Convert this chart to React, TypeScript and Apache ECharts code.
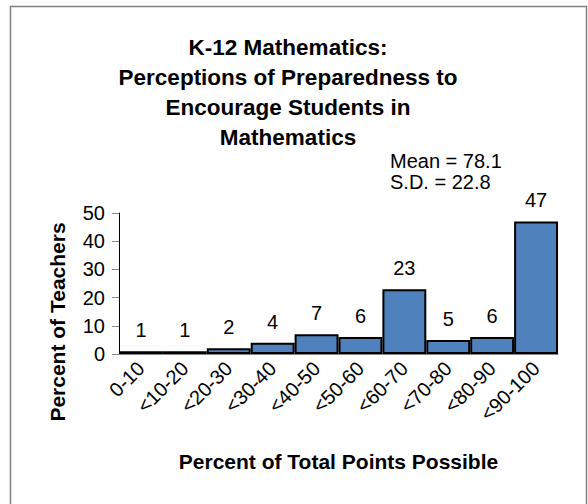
import React, { useEffect, useRef } from "react";
import * as echarts from "echarts";

const categories = ["0-10", "<10-20", "<20-30", "<30-40", "<40-50", "<50-60", "<60-70", "<70-80", "<80-90", "<90-100"];
const percentTeachers = [1, 1, 2, 4, 7, 6, 23, 5, 6, 47];
const titleLines = ["K-12 Mathematics:", "Perceptions of Preparedness to", "Encourage Students in", "Mathematics"];
const statsLines = ["Mean = 78.1", "S.D. = 22.8"];
const yTitle = "Percent of Teachers";
const xTitle = "Percent of Total Points Possible";

const FONT = "'Liberation Sans', Arial, sans-serif";

export default function App() {
  const ref = useRef<HTMLDivElement>(null);
  useEffect(() => {
    document.body.style.margin = "0";
    const chart = echarts.init(ref.current!, null, { renderer: "svg" });
    chart.setOption({
      animation: false,
      backgroundColor: "#ffffff",
      textStyle: { fontFamily: FONT },
      title: {
        text: titleLines.join("\n"),
        left: 283,
        textAlign: "center",
        top: 27,
        textStyle: { fontFamily: FONT, fontSize: 22.5, fontWeight: "bold", color: "#000", lineHeight: 30 },
      },
      grid: { left: 119, right: 30, top: 213, bottom: 150 },
      xAxis: {
        type: "category",
        data: categories,
        axisLine: { show: true, lineStyle: { color: "#888", width: 1 } },
        axisTick: { show: false },
        axisLabel: { interval: 0, rotate: 45, fontSize: 20, color: "#000", fontFamily: FONT, margin: 11 },
        name: xTitle,
        nameLocation: "middle",
        nameGap: 97,
        nameTextStyle: { fontSize: 21, fontWeight: "bold", color: "#000", fontFamily: FONT },
      },
      yAxis: {
        type: "value",
        min: 0,
        max: 50,
        interval: 10,
        splitLine: { show: false },
        axisLine: { show: true, lineStyle: { color: "#000", width: 1 } },
        axisTick: { show: true, length: 7, lineStyle: { color: "#888" } },
        axisLabel: { fontSize: 20, color: "#000", fontFamily: FONT, margin: 14 },
      },
      graphic: [
        {
          type: "rect",
          shape: { x: 10.5, y: 6.5, width: 576, height: 520 },
          style: { fill: "none", stroke: "#808080", lineWidth: 1.5 },
          silent: true,
        },
        {
          type: "text",
          x: 390,
          y: 150,
          style: { text: statsLines.join("\n"), fontSize: 20, lineHeight: 21, fill: "#000", fontFamily: FONT },
        },
        {
          type: "text",
          x: 57,
          y: 322,
          rotation: Math.PI / 2,
          style: { text: yTitle, fontSize: 21, fontWeight: "bold", fill: "#000", fontFamily: FONT, align: "center", verticalAlign: "middle" },
        },
      ],
      series: [
        {
          type: "bar",
          data: percentTeachers,
          barCategoryGap: "0%",
          itemStyle: { color: "#4F81BD", borderColor: "#000", borderWidth: 2 },
          label: { show: true, position: "top", distance: 11, fontSize: 20, color: "#000", fontFamily: FONT },
        },
      ],
    });
    return () => chart.dispose();
  }, []);
  return <div ref={ref} style={{ width: 588, height: 504 }} />;
}
